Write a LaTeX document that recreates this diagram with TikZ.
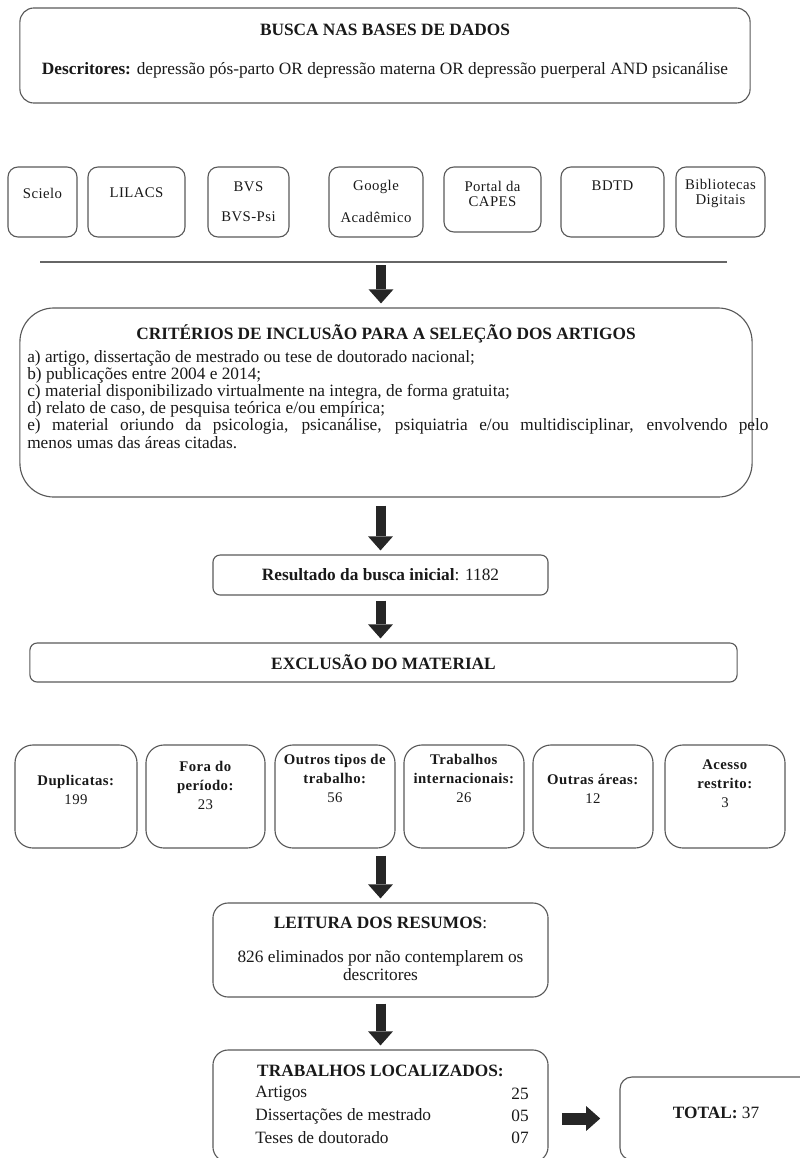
\documentclass[tikz,border=0pt]{standalone}
\usepackage{fontspec}
\setmainfont{Liberation Serif}
\usetikzlibrary{arrows.meta,positioning}

\newcommand{\flowfont}{\fontsize{12.3}{14}\selectfont}
\newcommand{\srcfont}{\fontsize{10.5}{10.7}\selectfont\addfontfeatures{LetterSpace=3}}
\newcommand{\exfont}{\fontsize{10.5}{13.5}\selectfont\addfontfeatures{LetterSpace=3}}

\begin{document}
\begin{tikzpicture}[x=0.025cm,y=-0.025cm,font=\flowfont]
    % styles of the flowchart
    \tikzstyle{box} = [draw=black!65, line width=0.8pt, inner sep=0pt];
    \tikzstyle{txt} = [text=black!90, inner sep=0pt, align=center];
    \tikzstyle{bigarrow} = [draw=black!85, line width=0.25cm, -{Triangle[length=0.35cm,width=0.62cm,line width=0pt]}];

    \clip (0,0) rectangle (800,1158);

    % search in the data bases
    \node[box, rounded corners=0.35cm, minimum width=18.25cm, minimum height=2.375cm] (busca) at (385,55.5) {};
    \node[txt] (buscatit) at (385,30) {\textbf{BUSCA NAS BASES DE DADOS}};
    \node[txt] (descr) at (385,70) {\textbf{Descritores:} depressão pós-parto OR depressão materna OR depressão puerperal AND psicanálise};

    % the sources
    \tikzstyle{src} = [box, rounded corners=0.25cm, minimum height=1.75cm];
    \node[src, minimum width=1.725cm] (scielo) at (42.5,202) {};
    \node[src, minimum width=2.425cm] (lilacs) at (136.5,202) {};
    \node[src, minimum width=2.025cm] (bvs) at (248.5,202) {};
    \node[src, minimum width=2.35cm] (google) at (376,202) {};
    \node[src, minimum width=2.425cm, minimum height=1.625cm] (capes) at (492.5,199.5) {};
    \node[src, minimum width=2.575cm] (bdtd) at (612.5,202) {};
    \node[src, minimum width=2.225cm] (bib) at (720.5,202) {};

    \node[txt, font=\srcfont] (scielotxt) at (42.5,193) {Scielo};
    \node[txt, font=\srcfont] (lilacstxt) at (136.5,193) {LILACS};
    \node[txt, font=\srcfont] (bvstxt) at (248.5,201.5) {BVS\\[11pt]BVS-Psi};
    \node[txt, font=\srcfont] (googletxt) at (376,201) {Google\\[12pt]Acadêmico};
    \node[txt, font=\srcfont] (capestxt) at (492.5,193.5) {Portal da\\CAPES};
    \node[txt, font=\srcfont] (bdtdtxt) at (612.5,186) {BDTD};
    \node[txt, font=\srcfont] (bibtxt) at (720.5,193.5) {Bibliotecas\\Digitais};

    \coordinate (hlw) at (40,262);
    \coordinate (hle) at (727,262);
    \coordinate (hlmid) at (381,262);
    \draw[black!60, line width=1pt] (hlw) -- (hle);

    % inclusion criteria
    \node[box, rounded corners=0.85cm, minimum width=18.3cm, minimum height=4.725cm] (crit) at (386,402.5) {};
    \node[txt] (crittit) at (386,334) {\textbf{CRITÉRIOS DE INCLUSÃO PARA A SELEÇÃO DOS ARTIGOS}};
    \node[text=black!90, inner sep=0pt, anchor=north west, text width=18.525cm, align=justify,
          font=\fontsize{12.3}{11}\selectfont] (critlist) at (27,350) {%
        a) artigo, dissertação de mestrado ou tese de doutorado nacional;\\
        b) publicações entre 2004 e 2014;\\
        c) material disponibilizado virtualmente na integra, de forma gratuita;\\
        d) relato de caso, de pesquisa teórica e/ou empírica;\\
        e) material oriundo da psicologia, psicanálise, psiquiatria e/ou multidisciplinar, envolvendo pelo\linebreak
        menos umas das áreas citadas.};

    \draw[bigarrow, shorten <=0.08cm, shorten >=0.1cm] (hlmid) -- (hlmid |- crit.north);

    % first result and exclusion
    \node[box, rounded corners=0.18cm, minimum width=8.375cm, minimum height=1cm] (res) at (380.5,575) {};
    \node[txt] (restxt) at (380.5,575) {\textbf{Resultado da busca inicial}: 1182};
    \node[box, rounded corners=0.18cm, minimum width=17.675cm, minimum height=0.975cm] (excl) at (383.5,662.5) {};
    \node[txt] (excltxt) at (383.5,662.5) {\textbf{EXCLUSÃO DO MATERIAL}};

    \draw[bigarrow, shorten <=0.2cm, shorten >=0.1cm] (crit.south -| res.north) -- (res.north);
    \draw[bigarrow, shorten <=0.125cm, shorten >=0.1cm] (res.south) -- (res.south |- excl.north);

    % excluded material
    \tikzstyle{exbox} = [box, rounded corners=0.45cm, minimum width=3cm, minimum height=2.575cm];
    \node[exbox, minimum width=3.05cm] (dup) at (76,796.5) {};
    \node[exbox, minimum width=2.975cm] (fora) at (205.5,796.5) {};
    \node[exbox] (outros) at (335,796.5) {};
    \node[exbox] (intern) at (464,796.5) {};
    \node[exbox] (areas) at (593,796.5) {};
    \node[exbox] (acesso) at (725,796.5) {};

    \node[txt, font=\exfont] (duptxt) at (76,790) {\textbf{Duplicatas:}\\199};
    \node[txt, font=\exfont] (foratxt) at (205.5,785) {\textbf{Fora do}\\\textbf{período:}\\23};
    \node[txt, font=\exfont] (outrostxt) at (335,778.5) {\textbf{Outros tipos de}\\\textbf{trabalho:}\\56};
    \node[txt, font=\exfont] (interntxt) at (464,778.5) {\textbf{Trabalhos}\\\textbf{internacionais:}\\26};
    \node[txt, font=\exfont] (areastxt) at (593,789) {\textbf{Outras áreas:}\\12};
    \node[txt, font=\exfont] (acessotxt) at (725,784) {\textbf{Acesso}\\\textbf{restrito:}\\3};

    % reading and final count
    \node[box, rounded corners=0.38cm, minimum width=8.375cm, minimum height=2.35cm] (leit) at (380.5,950) {};
    \node[txt] (leittit) at (380.5,923) {\textbf{LEITURA DOS RESUMOS}:};
    \node[txt, font=\fontsize{12.3}{12.8}\selectfont] (leittxt) at (380.5,966) {826 eliminados por não contemplarem os\\descritores};

    \draw[bigarrow, shorten <=0.175cm, shorten >=0.1cm] (dup.south -| leit.north) -- (leit.north);

    \node[box, rounded corners=0.38cm, minimum width=8.375cm, minimum height=2.8cm] (loc) at (380.5,1106) {};
    \node[txt] (loctit) at (380.5,1071) {\textbf{TRABALHOS LOCALIZADOS:}};
    \node[txt, anchor=west] (art) at (255,1094) {Artigos};
    \node[txt] (artn) at (520,1094) {25};
    \node[txt, anchor=west] (diss) at (255,1116) {Dissertações de mestrado};
    \node[txt] (dissn) at (520,1116) {05};
    \node[txt, anchor=west] (tes) at (255,1138) {Teses de doutorado};
    \node[txt] (tesn) at (520,1138) {07};

    \draw[bigarrow, shorten <=0.15cm, shorten >=0.1cm] (leit.south) -- (loc.north);

    \node[box, rounded corners=0.3cm, minimum width=5.25cm, minimum height=2.075cm] (total) at (725,1118.5) {};
    \node[txt] (totaltxt) at (716,1113) {\textbf{TOTAL:} 37};

    \draw[bigarrow, line width=0.3cm, shorten <=0.33cm, shorten >=0.48cm] (loc.east |- total.west) -- (total.west);

\end{tikzpicture}
\end{document}
